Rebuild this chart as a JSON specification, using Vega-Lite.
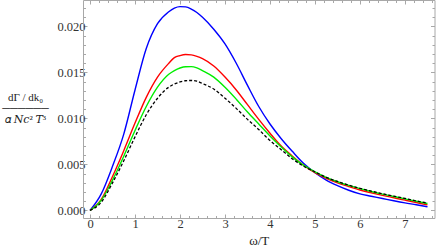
{
  "$schema": "https://vega.github.io/schema/vega-lite/v6.json",
  "width": 351.5,
  "height": 218,
  "autosize": {"type": "none"},
  "padding": {"left": 83, "top": 0, "right": 1.5, "bottom": 31},
  "config": {
    "font": "Liberation Serif, Times New Roman, DejaVu Serif, serif",
    "view": {"stroke": null},
    "axis": {
      "grid": false,
      "domainColor": "#a8a8a8",
      "tickColor": "#a8a8a8",
      "labelColor": "#333333",
      "labelFont": "Liberation Serif, Times New Roman, DejaVu Serif, serif",
      "labelFontSize": 12.5,
      "titleFont": "Liberation Serif, Times New Roman, DejaVu Serif, serif",
      "titleFontWeight": "normal",
      "titleColor": "#222222"
    }
  },
  "datasets": {
    "curves": [
      {"s": "blue", "w": 0, "v": 0}, {"s": "blue", "w": 0.25, "v": 0.0018}, {"s": "blue", "w": 0.5, "v": 0.0048}, {"s": "blue", "w": 0.75, "v": 0.0083}, {"s": "blue", "w": 1.0, "v": 0.0131}, {"s": "blue", "w": 1.25, "v": 0.0176}, {"s": "blue", "w": 1.5, "v": 0.0203}, {"s": "blue", "w": 1.75, "v": 0.0216}, {"s": "blue", "w": 1.875, "v": 0.022}, {"s": "blue", "w": 2.0, "v": 0.02216}, {"s": "blue", "w": 2.125, "v": 0.02213}, {"s": "blue", "w": 2.25, "v": 0.0219}, {"s": "blue", "w": 2.375, "v": 0.02152}, {"s": "blue", "w": 2.5, "v": 0.0210}, {"s": "blue", "w": 2.75, "v": 0.0197}, {"s": "blue", "w": 3.0, "v": 0.0181}, {"s": "blue", "w": 3.25, "v": 0.0160}, {"s": "blue", "w": 3.5, "v": 0.0136}, {"s": "blue", "w": 3.75, "v": 0.0113}, {"s": "blue", "w": 4.0, "v": 0.0094}, {"s": "blue", "w": 4.25, "v": 0.0078}, {"s": "blue", "w": 4.5, "v": 0.0064}, {"s": "blue", "w": 4.75, "v": 0.0051}, {"s": "blue", "w": 5.0, "v": 0.0041}, {"s": "blue", "w": 5.25, "v": 0.0033}, {"s": "blue", "w": 5.5, "v": 0.0027}, {"s": "blue", "w": 5.75, "v": 0.0022}, {"s": "blue", "w": 6.0, "v": 0.0018}, {"s": "blue", "w": 6.25, "v": 0.00155}, {"s": "blue", "w": 6.5, "v": 0.0013}, {"s": "blue", "w": 6.75, "v": 0.00105}, {"s": "blue", "w": 7.0, "v": 0.00082}, {"s": "blue", "w": 7.25, "v": 0.00062}, {"s": "blue", "w": 7.5, "v": 0.0004},
      {"s": "red", "w": 0, "v": 0}, {"s": "red", "w": 0.25, "v": 0.0012}, {"s": "red", "w": 0.5, "v": 0.0037}, {"s": "red", "w": 0.75, "v": 0.0065}, {"s": "red", "w": 1.0, "v": 0.0095}, {"s": "red", "w": 1.25, "v": 0.0123}, {"s": "red", "w": 1.5, "v": 0.0145}, {"s": "red", "w": 1.75, "v": 0.0160}, {"s": "red", "w": 1.875, "v": 0.01662}, {"s": "red", "w": 2.0, "v": 0.01684}, {"s": "red", "w": 2.125, "v": 0.01695}, {"s": "red", "w": 2.25, "v": 0.01691}, {"s": "red", "w": 2.375, "v": 0.01675}, {"s": "red", "w": 2.5, "v": 0.0165}, {"s": "red", "w": 2.75, "v": 0.0157}, {"s": "red", "w": 3.0, "v": 0.0145}, {"s": "red", "w": 3.25, "v": 0.0131}, {"s": "red", "w": 3.5, "v": 0.0115}, {"s": "red", "w": 3.75, "v": 0.0099}, {"s": "red", "w": 4.0, "v": 0.0084}, {"s": "red", "w": 4.25, "v": 0.007}, {"s": "red", "w": 4.5, "v": 0.0059}, {"s": "red", "w": 4.75, "v": 0.0049}, {"s": "red", "w": 5.0, "v": 0.0041}, {"s": "red", "w": 5.25, "v": 0.0035}, {"s": "red", "w": 5.5, "v": 0.003}, {"s": "red", "w": 5.75, "v": 0.0026}, {"s": "red", "w": 6.0, "v": 0.00222}, {"s": "red", "w": 6.25, "v": 0.00192}, {"s": "red", "w": 6.5, "v": 0.00164}, {"s": "red", "w": 6.75, "v": 0.00138}, {"s": "red", "w": 7.0, "v": 0.00112}, {"s": "red", "w": 7.25, "v": 0.00086}, {"s": "red", "w": 7.5, "v": 0.0006},
      {"s": "green", "w": 0, "v": 0}, {"s": "green", "w": 0.25, "v": 0.0011}, {"s": "green", "w": 0.5, "v": 0.0033}, {"s": "green", "w": 0.75, "v": 0.0059}, {"s": "green", "w": 1.0, "v": 0.0087}, {"s": "green", "w": 1.25, "v": 0.0113}, {"s": "green", "w": 1.5, "v": 0.0134}, {"s": "green", "w": 1.75, "v": 0.0148}, {"s": "green", "w": 1.875, "v": 0.01521}, {"s": "green", "w": 2.0, "v": 0.01549}, {"s": "green", "w": 2.125, "v": 0.01563}, {"s": "green", "w": 2.25, "v": 0.01564}, {"s": "green", "w": 2.375, "v": 0.0155}, {"s": "green", "w": 2.5, "v": 0.0152}, {"s": "green", "w": 2.75, "v": 0.0145}, {"s": "green", "w": 3.0, "v": 0.0134}, {"s": "green", "w": 3.25, "v": 0.0121}, {"s": "green", "w": 3.5, "v": 0.0107}, {"s": "green", "w": 3.75, "v": 0.0094}, {"s": "green", "w": 4.0, "v": 0.0081}, {"s": "green", "w": 4.25, "v": 0.0069}, {"s": "green", "w": 4.5, "v": 0.0058}, {"s": "green", "w": 4.75, "v": 0.0049}, {"s": "green", "w": 5.0, "v": 0.0042}, {"s": "green", "w": 5.25, "v": 0.0036}, {"s": "green", "w": 5.5, "v": 0.00312}, {"s": "green", "w": 5.75, "v": 0.00272}, {"s": "green", "w": 6.0, "v": 0.00237}, {"s": "green", "w": 6.25, "v": 0.00206}, {"s": "green", "w": 6.5, "v": 0.00178}, {"s": "green", "w": 6.75, "v": 0.00152}, {"s": "green", "w": 7.0, "v": 0.00126}, {"s": "green", "w": 7.25, "v": 0.001}, {"s": "green", "w": 7.5, "v": 0.00075}
    ],
    "ref": [
      {"s": "black", "w": 0, "v": 0}, {"s": "black", "w": 0.25, "v": 0.0009}, {"s": "black", "w": 0.5, "v": 0.003}, {"s": "black", "w": 0.75, "v": 0.0054}, {"s": "black", "w": 1.0, "v": 0.008}, {"s": "black", "w": 1.25, "v": 0.0104}, {"s": "black", "w": 1.5, "v": 0.0122}, {"s": "black", "w": 1.75, "v": 0.0134}, {"s": "black", "w": 1.875, "v": 0.01374}, {"s": "black", "w": 2.0, "v": 0.01397}, {"s": "black", "w": 2.125, "v": 0.0141}, {"s": "black", "w": 2.25, "v": 0.01413}, {"s": "black", "w": 2.375, "v": 0.01405}, {"s": "black", "w": 2.5, "v": 0.0138}, {"s": "black", "w": 2.75, "v": 0.0132}, {"s": "black", "w": 3.0, "v": 0.0122}, {"s": "black", "w": 3.25, "v": 0.0111}, {"s": "black", "w": 3.5, "v": 0.0099}, {"s": "black", "w": 3.75, "v": 0.0088}, {"s": "black", "w": 4.0, "v": 0.0076}, {"s": "black", "w": 4.25, "v": 0.0066}, {"s": "black", "w": 4.5, "v": 0.0056}, {"s": "black", "w": 4.75, "v": 0.0048}, {"s": "black", "w": 5.0, "v": 0.0042}, {"s": "black", "w": 5.25, "v": 0.0036}, {"s": "black", "w": 5.5, "v": 0.00315}, {"s": "black", "w": 5.75, "v": 0.00275}, {"s": "black", "w": 6.0, "v": 0.0024}, {"s": "black", "w": 6.25, "v": 0.0021}, {"s": "black", "w": 6.5, "v": 0.00182}, {"s": "black", "w": 6.75, "v": 0.00156}, {"s": "black", "w": 7.0, "v": 0.0013}, {"s": "black", "w": 7.25, "v": 0.00104}, {"s": "black", "w": 7.5, "v": 0.0008}
    ]
  },
  "layer": [
    {
      "data": {"name": "curves"},
      "mark": {"type": "line", "interpolate": "monotone", "strokeWidth": 1.4},
      "encoding": {
        "x": {
          "field": "w", "type": "quantitative",
          "scale": {"domain": [-0.156, 7.656], "nice": false, "zero": false},
          "axis": {
            "orient": "bottom",
            "values": [0, 0.2, 0.4, 0.6, 0.8, 1, 1.2, 1.4, 1.6, 1.8, 2, 2.2, 2.4, 2.6, 2.8, 3, 3.2, 3.4, 3.6, 3.8, 4, 4.2, 4.4, 4.6, 4.8, 5, 5.2, 5.4, 5.6, 5.8, 6, 6.2, 6.4, 6.6, 6.8, 7, 7.2, 7.4, 7.6],
            "format": ".0f",
            "labelExpr": "datum.value % 1 === 0 ? datum.label : ''",
            "tickSize": {"condition": {"test": "datum.value % 1 === 0", "value": -4}, "value": -2.5},
            "labelPadding": 3,
            "labelFlush": false,
            "labelOverlap": false,
            "labelFont": "Liberation Serif, Times New Roman, DejaVu Serif, serif",
            "title": "ω/T",
            "titleFont": "Liberation Serif, Times New Roman, DejaVu Serif, serif",
            "titleFontSize": 13,
            "titleY": 22,
            "titleBaseline": "middle"
          }
        },
        "y": {
          "field": "v", "type": "quantitative",
          "scale": {"domain": [-0.00082, 0.02288], "nice": false, "zero": false},
          "axis": {
            "orient": "left",
            "values": [0, 0.001, 0.002, 0.003, 0.004, 0.005, 0.006, 0.007, 0.008, 0.009, 0.01, 0.011, 0.012, 0.013, 0.014, 0.015, 0.016, 0.017, 0.018, 0.019, 0.02, 0.021, 0.022],
            "format": ".3f",
            "labelExpr": "round(datum.value * 1000) % 5 === 0 ? datum.label : ''",
            "tickSize": {"condition": {"test": "round(datum.value * 1000) % 5 === 0", "value": -4}, "value": -2.5},
            "labelPadding": 2,
            "labelFlush": false,
            "labelOverlap": false,
            "labelFont": "Liberation Serif, Times New Roman, DejaVu Serif, serif",
            "title": ["dΓ / dk₀", "──────", "𝛼 𝑁𝑐² 𝑇³"],
            "titleFont": "Liberation Serif, Times New Roman, DejaVu Serif, serif",
            "titleFontSize": 11,
            "titleAngle": 0,
            "titleAlign": "center",
            "titleBaseline": "middle",
            "titleLineHeight": 11,
            "titleX": -58,
            "titleY": 97
          }
        },
        "color": {
          "field": "s", "type": "nominal",
          "scale": {"domain": ["blue", "red", "green"], "range": ["#0000ff", "#ff0000", "#00ee00"]},
          "legend": null
        }
      }
    },
    {
      "data": {"name": "ref"},
      "mark": {"type": "line", "interpolate": "monotone", "strokeWidth": 1.3, "color": "#000000", "strokeDash": [3, 2]},
      "encoding": {
        "x": {
          "field": "w", "type": "quantitative",
          "scale": {"domain": [-0.156, 7.656], "nice": false, "zero": false},
          "axis": {
            "orient": "top",
            "values": [0, 0.2, 0.4, 0.6, 0.8, 1, 1.2, 1.4, 1.6, 1.8, 2, 2.2, 2.4, 2.6, 2.8, 3, 3.2, 3.4, 3.6, 3.8, 4, 4.2, 4.4, 4.6, 4.8, 5, 5.2, 5.4, 5.6, 5.8, 6, 6.2, 6.4, 6.6, 6.8, 7, 7.2, 7.4, 7.6],
            "labels": false,
            "tickSize": {"condition": {"test": "datum.value % 1 === 0", "value": -4}, "value": -2.5},
            "title": null
          }
        },
        "y": {
          "field": "v", "type": "quantitative",
          "scale": {"domain": [-0.00082, 0.02288], "nice": false, "zero": false},
          "axis": {
            "orient": "right",
            "values": [0, 0.001, 0.002, 0.003, 0.004, 0.005, 0.006, 0.007, 0.008, 0.009, 0.01, 0.011, 0.012, 0.013, 0.014, 0.015, 0.016, 0.017, 0.018, 0.019, 0.02, 0.021, 0.022],
            "labels": false,
            "tickSize": {"condition": {"test": "round(datum.value * 1000) % 5 === 0", "value": -4}, "value": -2.5},
            "title": null
          }
        }
      }
    }
  ],
  "resolve": {
    "scale": {"x": "independent", "y": "independent"},
    "axis": {"x": "independent", "y": "independent"}
  }
}
